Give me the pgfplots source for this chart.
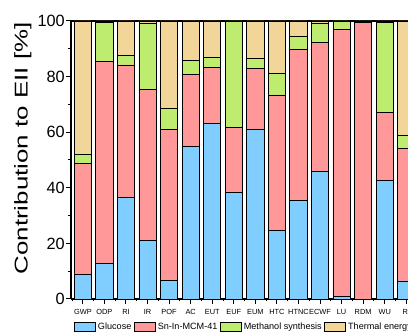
\documentclass[border=0pt]{standalone}
\usepackage{pgfplots}
\pgfplotsset{compat=1.18}
\usepackage{pgfplotstable}
\usepackage{fontspec}
\setmainfont{Liberation Sans}
\usepackage{graphicx}
\definecolor{cG}{RGB}{128,206,255}
\definecolor{cS}{RGB}{255,153,153}
\definecolor{cM}{RGB}{190,236,110}
\definecolor{cT}{RGB}{242,214,153}
\pgfplotstableread{
x G S M T
0 9.0 39.8 3.2 48.0
1 12.8 72.5 14.3 0.4
2 36.6 47.6 3.5 12.3
3 21.1 54.4 23.7 0.8
4 6.7 54.2 7.7 31.4
5 54.8 26.1 5.0 14.1
6 63.2 20.1 3.6 13.1
7 38.5 23.3 38.2 0.0
8 61.0 22.0 3.6 13.4
9 24.5 48.9 7.8 18.8
10 35.3 54.4 4.7 5.6
11 45.9 46.4 6.9 0.8
12 1.0 95.9 3.1 0.0
13 0.0 99.5 0.5 0.0
14 42.7 24.3 32.5 0.5
15 6.5 47.5 4.9 41.1
}\data
\pgfplotsset{myleg/.style={legend image code/.code={\draw[#1,draw=black,line width=0.8pt] (0pt,-4.8pt) rectangle (21pt,4.8pt);}}}
\begin{document}
\begin{tikzpicture}
\useasboundingbox (-71pt,-33pt) rectangle (337pt,299pt);
\begin{axis}[
  at={(0,0)}, anchor=south west,
  scale only axis, width=337pt, height=278pt,
  xmin=-0.55, xmax=15.08, ymin=0, ymax=100,
  ybar stacked, bar width=0.8,
  axis x line*=box, axis y line*=left,
  axis line style={-, line width=1.3pt, black},
  xtick pos=left, ytick pos=left,
  xtick={0,...,15},
  xticklabels={GWP,ODP,RI,IR,POF,AC,EUT,EUF,EUM,HTC,HTNC,ECWF,LU,RDM,WU,RI},
  minor xtick={-0.5,0.5,...,15.5},
  ytick={0,20,...,100}, minor ytick={10,30,...,90},
  tick align=outside, major tick length=5pt, minor tick length=2.5pt,
  tick style={black, line width=1pt},
  /pgf/number format/assume math mode=true,
  yticklabel style={font=\fontsize{16.3}{16}\selectfont, inner xsep=1pt},
  xticklabel style={font=\fontsize{7.4}{8}\selectfont, inner ysep=1pt, yshift=-4pt},
  ylabel={\scalebox{1.4}[1]{Contribution to EII [\%]}},
  ylabel style={font=\fontsize{18.5}{19}\selectfont, at={(axis description cs:-0.1166,0.5414)}, anchor=south, inner sep=0pt},
  legend style={at={(0,0)}, anchor=west, xshift=3pt, yshift=-28pt, draw=none, fill=none,
    font=\fontsize{9.1}{10}\selectfont, inner sep=0pt,
    /tikz/every even column/.append style={column sep=0.6pt}},
  legend columns=-1,
]
\addplot[fill=cG, draw=black, line width=0.8pt, myleg] table[x=x,y=G]{\data};
\addplot[fill=cS, draw=black, line width=0.8pt, myleg] table[x=x,y=S]{\data};
\addplot[fill=cM, draw=black, line width=0.8pt, myleg] table[x=x,y=M]{\data};
\addplot[fill=cT, draw=black, line width=0.8pt, myleg] table[x=x,y=T]{\data};
\legend{Glucose,Sn-In-MCM-41,Methanol synthesis,Thermal energy}
\end{axis}
\end{tikzpicture}
\end{document}
